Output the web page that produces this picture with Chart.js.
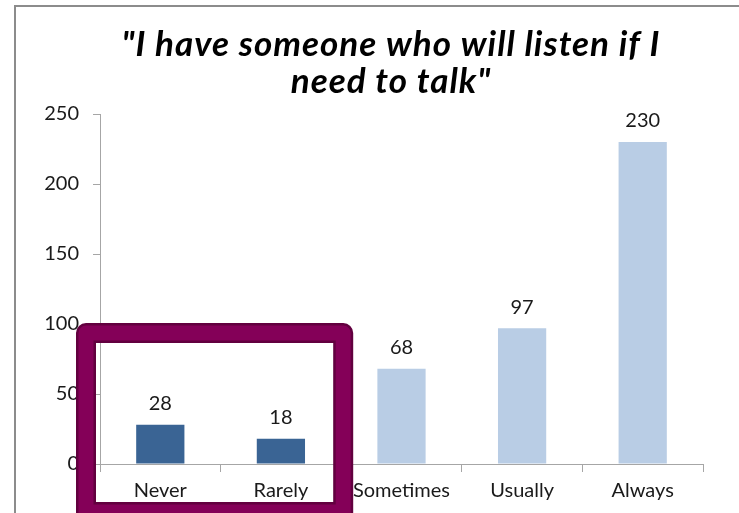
<!DOCTYPE html>
<html>
<head>
<meta charset="utf-8">
<script src="https://cdn.jsdelivr.net/npm/chart.js@4/dist/chart.umd.min.js"></script>
<style>
  html, body { margin: 0; padding: 0; background: #fff; }
  #wrap { width: 739px; height: 513px; }
</style>
</head>
<body>
<div id="wrap"><canvas id="canva1"></canvas></div>
<script>
const categories = ["Never", "Rarely", "Sometimes", "Usually", "Always"];
const responses = [28, 18, 68, 97, 230];
const barColors = ["#3a6494", "#3a6494", "#b9cde5", "#b9cde5", "#b9cde5"];
const titleLines = ["\"I have someone who will listen if I", "need to talk\""];
const yTicks = [0, 50, 100, 150, 200, 250];

const FONT = "Lato, 'Open Sans', sans-serif";

// grey frame round the chart, title, value labels and the highlight box
const extras = {
    id: "extras",
    beforeDraw(chart) {
        const ctx = chart.ctx;
        ctx.save();
        ctx.strokeStyle = "#8c8c8c";
        ctx.lineWidth = 2;
        ctx.strokeRect(15, 6, 800, 600);
        ctx.restore();
    },
    afterDatasetsDraw(chart) {
        const ctx = chart.ctx;
        const meta = chart.getDatasetMeta(0);
        ctx.save();
        ctx.fillStyle = "#1a1a1a";
        ctx.font = "20px " + FONT;
        ctx.textAlign = "center";
        ctx.textBaseline = "middle";
        meta.data.forEach((bar, i) => {
            ctx.fillText(responses[i], bar.x, bar.y - 21);
        });
        ctx.restore();
    },
    afterDraw(chart) {
        const ctx = chart.ctx;
        const area = chart.chartArea;
        const x = chart.scales.x;
        const y = chart.scales.y;
        ctx.save();
        ctx.fillStyle = "#000";
        ctx.font = "italic bold 35px " + FONT;
        ctx.letterSpacing = "1px";
        ctx.textAlign = "center";
        ctx.textBaseline = "middle";
        ctx.fillText(titleLines[0], 391, 45);
        ctx.fillText(titleLines[1], 391, 82);
        ctx.letterSpacing = "0px";

        // box round the first two categories
        const left = area.left - 14;
        const right = (x.getPixelForValue(1) + x.getPixelForValue(2)) / 2 + 2;
        const top = y.getPixelForValue(100) + 9;
        const bottom = area.bottom + 48;
        ctx.lineJoin = "round";
        ctx.strokeStyle = "#62003f";
        ctx.lineWidth = 20;
        ctx.strokeRect(left, top, right - left, bottom - top);
        ctx.strokeStyle = "#840058";
        ctx.lineWidth = 15;
        ctx.strokeRect(left, top, right - left, bottom - top);
        ctx.restore();
    }
};

window.onload = function(){
    const ctx = document.getElementById("canva1").getContext("2d");
    new Chart(ctx, {
        type: "bar",
        data: {
            labels: categories,
            datasets: [{
                data: responses,
                backgroundColor: barColors,
                barPercentage: 0.4,
                categoryPercentage: 1
            }]
        },
        options: {
            responsive: true,
            maintainAspectRatio: false,
            animation: false,
            layout: { padding: { left: 30, right: 36, top: 114, bottom: 0 } },
            plugins: {
                legend: { display: false },
                tooltip: { enabled: false }
            },
            scales: {
                x: {
                    grid: { display: true, drawOnChartArea: false, offset: true, tickLength: 8, color: "#a6a6a6" },
                    border: { color: "#a6a6a6" },
                    ticks: { color: "#1a1a1a", font: { family: FONT, size: 20 }, padding: 7 },
                    afterFit(s) { s.height = 49; }
                },
                y: {
                    min: 0,
                    max: 250,
                    afterBuildTicks(s) { s.ticks = yTicks.map(v => ({ value: v })); },
                    grid: { display: true, drawOnChartArea: false, tickLength: 7, color: "#a6a6a6" },
                    border: { color: "#a6a6a6" },
                    ticks: { color: "#1a1a1a", font: { family: FONT, size: 20 }, padding: 14 },
                    afterFit(s) { s.width = 70; }
                }
            }
        },
        plugins: [extras]
    });
};
</script>
</body>
</html>
